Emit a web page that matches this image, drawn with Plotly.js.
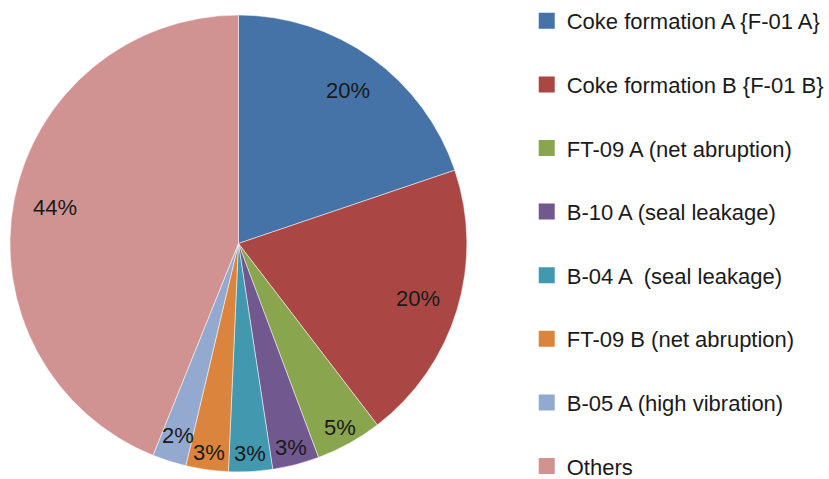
<!DOCTYPE html>
<html>
<head>
<meta charset="utf-8">
<script src="https://cdn.plot.ly/plotly-3.0.1.min.js"></script>
<style>html,body{margin:0;padding:0;background:#fff;}#chart{width:829px;height:479px;}</style>
</head>
<body>
<div id="chart"></div>
<script>
// ---- data ----
var categories = [
  "Coke formation A {F-01 A}",
  "Coke formation B {F-01 B}",
  "FT-09 A (net abruption)",
  "B-10 A (seal leakage)",
  "B-04 A  (seal leakage)",
  "FT-09 B (net abruption)",
  "B-05 A (high vibration)",
  "Others"
];
var shares = [19.8, 19.8, 4.7, 3.3, 3.1, 3.0, 2.4, 43.9];
var percentLabels = ["20%", "20%", "5%", "3%", "3%", "3%", "2%", "44%"];
var colors = ["#4572A7", "#AA4643", "#89A54E", "#71588F", "#4198AF", "#DB843D", "#93A9CF", "#D19392"];

// ---- geometry ----
var W = 829, H = 479;
var cx = 239, cy = 243.5, R = 229;
var xDom = [(cx - R) / W, (cx + R) / W];
var yDom = [(H - (cy + R)) / H, (H - (cy - R)) / H];
var FONT = "Liberation Sans, Arial, sans-serif";

var total = shares.reduce(function (a, b) { return a + b; }, 0);
var annotations = [];
var cum = 0;
shares.forEach(function (v, i) {
  var mid = (cum + v / 2) / total * 2 * Math.PI;
  var rf = v >= 10 ? 0.82 : (v < 2.5 ? 0.88 : 0.92);
  annotations.push({
    xref: "x", yref: "y",
    x: rf * Math.sin(mid),
    y: rf * Math.cos(mid),
    text: percentLabels[i],
    showarrow: false,
    xanchor: "center", yanchor: "middle",
    font: { family: FONT, size: 22, color: "#1a1a1a" }
  });
  cum += v;
});

var traces = [{
  type: "pie",
  labels: categories,
  values: shares,
  sort: false,
  direction: "clockwise",
  rotation: 0,
  textinfo: "none",
  hoverinfo: "label+percent",
  showlegend: false,
  marker: { colors: colors, line: { color: "#ffffff", width: 0.5 } },
  domain: { x: xDom, y: yDom }
}];

categories.forEach(function (c, i) {
  traces.push({
    type: "scatter",
    mode: "markers",
    x: [null],
    y: [null],
    name: c,
    legendgroup: "g" + i,
    showlegend: true,
    marker: { symbol: "square", size: 16, color: colors[i] },
    hoverinfo: "skip"
  });
});

var layout = {
  width: W,
  height: H,
  margin: { l: 0, r: 0, t: 0, b: 0, pad: 0 },
  paper_bgcolor: "#ffffff",
  plot_bgcolor: "rgba(0,0,0,0)",
  font: { family: FONT, size: 22, color: "#1a1a1a" },
  xaxis: { domain: xDom, range: [-1, 1], visible: false, fixedrange: true },
  yaxis: { domain: yDom, range: [-1, 1], visible: false, fixedrange: true },
  annotations: annotations,
  showlegend: true,
  legend: {
    x: 528 / W,
    xanchor: "left",
    y: 1 - 7 / H,
    yanchor: "top",
    traceorder: "grouped",
    tracegroupgap: 32,
    itemsizing: "trace",
    bgcolor: "rgba(0,0,0,0)",
    borderwidth: 0,
    font: { family: FONT, size: 22, color: "#1a1a1a" }
  }
};

Plotly.newPlot("chart", traces, layout, { displayModeBar: false, staticPlot: true });
</script>
</body>
</html>
